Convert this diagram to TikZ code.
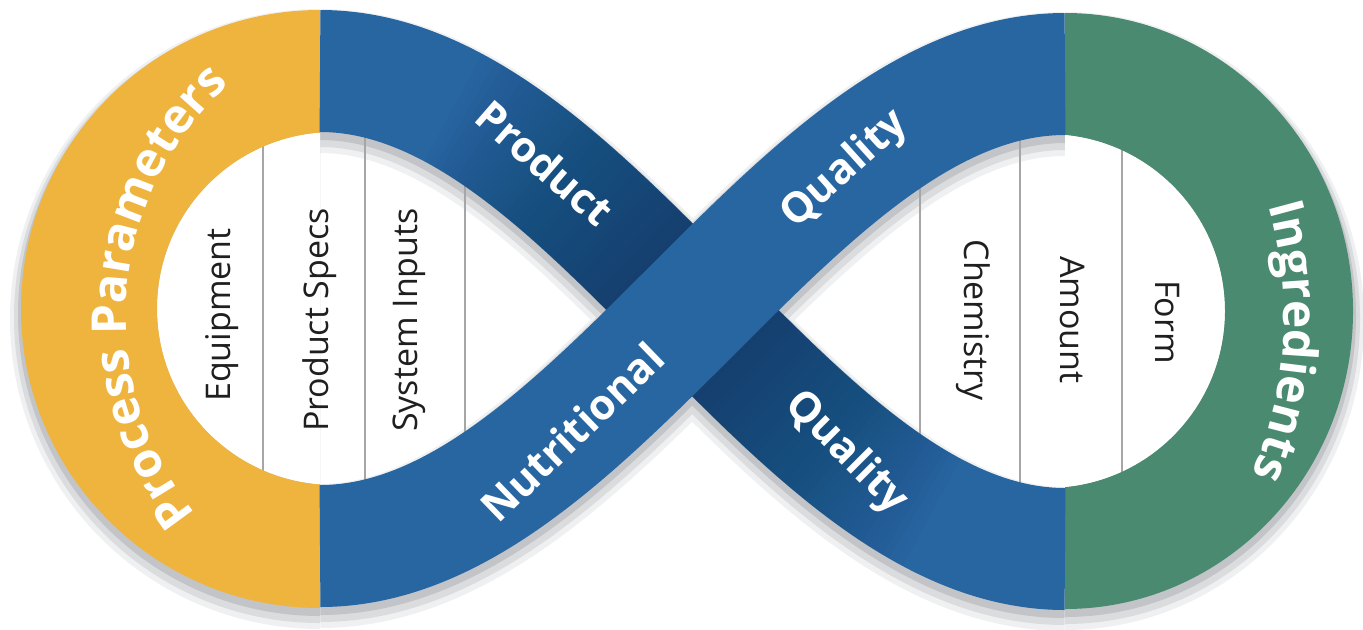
\documentclass[tikz,border=0pt]{standalone}
\usepackage{fontspec}
\setmainfont{Open Sans}
\usetikzlibrary{decorations.text}

\definecolor{ppyellow}{HTML}{EFB43E}
\definecolor{ribbonblue}{HTML}{2866A1}
\definecolor{ribbondark}{HTML}{15395E}
\definecolor{ingreen}{HTML}{4A8A71}
\definecolor{dropgray}{HTML}{A9ACB2}
\definecolor{sepgray}{HTML}{A6A6A6}

\newcommand\ringlabel{\fontsize{24}{28}\selectfont\bfseries}

% one soft layer of the drop shadow under the whole band
% #1 = spread (px), #2 = drop (px), #3 = opacity
\newcommand\shadowlayer[3]{%
  \begin{scope}[shift={(0,-#2)}, transparency group, opacity=#3]
    \begin{scope}
      \clip (-50,-50) rectangle (320,700);
      \filldraw[dropgray, line width=#1pt] (320,320) circle[radius=299];
    \end{scope}
    \begin{scope}
      \clip (1065,-50) rectangle (1450,700);
      \filldraw[dropgray, line width=#1pt] (1065,318) ellipse[x radius=288, y radius=298];
    \end{scope}
    \draw[dropgray, line width=61pt+#1pt] (320,83) .. controls (593,83) and (792,555) .. (1065,555);
    \draw[dropgray, line width=61pt+#1pt] (320,558) .. controls (593,558) and (792,80) .. (1065,80);
  \end{scope}}

% darker piece of the back ribbon between curve parameters #1 and #2
\newcommand\shadeBsegment[2]{%
  \pgfmathsetmacro\tA{#1}%
  \pgfmathsetmacro\tB{#2}%
  \pgfmathsetmacro\xA{(1-\tA)^3*320+3*(1-\tA)^2*\tA*593+3*(1-\tA)*\tA^2*792+\tA^3*1065}%
  \pgfmathsetmacro\yA{(1-\tA)^3*558+3*(1-\tA)^2*\tA*558+3*(1-\tA)*\tA^2*80+\tA^3*80}%
  \pgfmathsetmacro\xB{(1-\tB)^3*320+3*(1-\tB)^2*\tB*593+3*(1-\tB)*\tB^2*792+\tB^3*1065}%
  \pgfmathsetmacro\yB{(1-\tB)^3*558+3*(1-\tB)^2*\tB*558+3*(1-\tB)*\tB^2*80+\tB^3*80}%
  \pgfmathsetmacro\dxA{3*(1-\tA)^2*273+6*(1-\tA)*\tA*199+3*\tA^2*273}%
  \pgfmathsetmacro\dyA{-6*(1-\tA)*\tA*478}%
  \pgfmathsetmacro\dxB{3*(1-\tB)^2*273+6*(1-\tB)*\tB*199+3*\tB^2*273}%
  \pgfmathsetmacro\dyB{-6*(1-\tB)*\tB*478}%
  \pgfmathsetmacro\hh{(\tB-\tA)/3}%
  \pgfmathsetmacro\cAx{\xA+\hh*\dxA}%
  \pgfmathsetmacro\cAy{\yA+\hh*\dyA}%
  \pgfmathsetmacro\cBx{\xB-\hh*\dxB}%
  \pgfmathsetmacro\cBy{\yB-\hh*\dyB}%
  \draw[ribbon, ribbondark, opacity=0.026] (\xA,\yA) .. controls (\cAx,\cAy) and (\cBx,\cBy) .. (\xB,\yB);}

\begin{document}
\begin{tikzpicture}[x=0.5pt, y=0.5pt,
  ribbon/.style={line width=61pt},
  seprule/.style={draw=sepgray, line width=0.7pt},
  itemtext/.style={font=\fontsize{17}{20}\selectfont, text=black!88, inner sep=0pt},
  bandtext/.style={font=\fontsize{21}{25}\selectfont\bfseries, text=white, inner sep=0pt},
]
\useasboundingbox (0,0) rectangle (1363,629);

% drop shadow
\shadowlayer{11}{10}{0.18}
\shadowlayer{7}{8}{0.3}
\shadowlayer{3}{5}{0.5}

% clear the two loop openings
\begin{scope}
  \clip (-50,-50) rectangle (320,700);
  \fill[white] (333.5,320.5) circle[radius=176.5];
\end{scope}
\begin{scope}
  \clip (1065,-50) rectangle (1450,700);
  \fill[white] (1048,318) circle[radius=177];
\end{scope}

% column rules inside the loops
\foreach \xx in {263,365,465,920,1020,1122}
  \draw[seprule] (\xx,100) -- (\xx,530);

% left loop: process parameters
\begin{scope}
  \clip (-50,-50) rectangle (320,700);
  \fill[ppyellow, even odd rule] (320,320) circle[radius=299] (333.5,320.5) circle[radius=176.5];
\end{scope}

% right loop: ingredients
\begin{scope}
  \clip (1065,-50) rectangle (1450,700);
  \fill[ingreen, even odd rule] (1065,318) ellipse[x radius=288, y radius=298] (1048,318) circle[radius=177];
\end{scope}

% back ribbon, darker towards the crossing
\draw[ribbon, ribbonblue] (320,558) .. controls (593,558) and (792,80) .. (1065,80);
\foreach \dd in {0.010,0.018,...,0.335} {
  \pgfmathsetmacro\lo{0.5-\dd}
  \pgfmathsetmacro\hi{0.5+\dd}
  \shadeBsegment{\lo}{\hi}
}

% front ribbon
\draw[ribbon, ribbonblue] (320,83) .. controls (593,83) and (792,555) .. (1065,555);

% loop labels
\path[decorate, decoration={text along path, text align=center, text color=white,
    text={|\ringlabel|Process Parameters}}]
  (440,312) ++(265.5:314) arc[start angle=265.5, end angle=85.5, radius=314];
\path[decorate, decoration={text along path, text align=center, text color=white,
    text={|\ringlabel|Ingredients}}]
  (885,312) ++(86.5:399) arc[start angle=86.5, end angle=-93.5, radius=399];

% ribbon labels
\node[bandtext, rotate=-41] (lblproduct) at (545,466) {Product};
\node[bandtext, rotate=42]  (lblqualitytop) at (845,459) {Quality};
\node[bandtext, rotate=44]  (lblnutritional) at (572,197) {Nutritional};
\node[bandtext, rotate=-45] (lblqualitybottom) at (846,176) {Quality};

% items inside the loops
\node[itemtext, rotate=90]  (equipment) at (222,314) {Equipment};
\node[itemtext, rotate=90]  (productspecs) at (320,309) {Product Specs};
\node[itemtext, rotate=90]  (systeminputs) at (409,309) {System Inputs};
\node[itemtext, rotate=-90] (chemistry) at (973,309) {Chemistry};
\node[itemtext, rotate=-90] (amount) at (1072,309) {Amount};
\node[itemtext, rotate=-90] (form) at (1167,307) {Form};
\end{tikzpicture}
\end{document}
